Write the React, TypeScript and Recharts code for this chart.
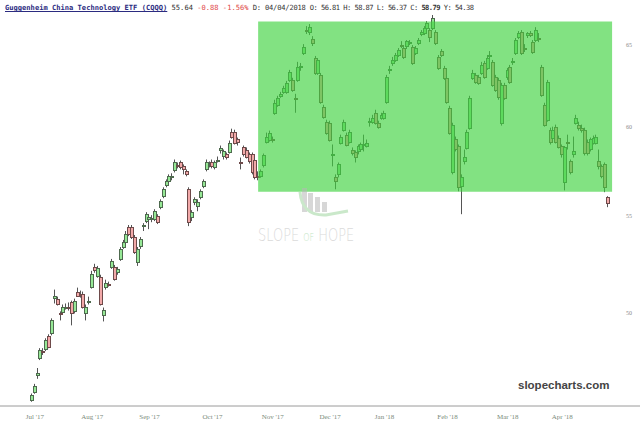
import React from 'react';
import { ComposedChart, Bar, XAxis, YAxis, ReferenceArea } from 'recharts';

// [open, high, low, close] per trading day
const julCandles = [
  [45.92, 46.2, 45.83, 46.15], [46.28, 46.64, 46.19, 46.55], [47.05, 47.37, 46.87, 47.14],
  [47.83, 48.3, 47.74, 48.21], [48.16, 48.3, 47.98, 48.12], [48.25, 48.77, 48.16, 48.68],
  [48.87, 48.96, 48.3, 48.35], [49.01, 49.73, 48.91, 49.63], [50.75, 51.15, 50.46, 50.85],
  [50.7, 50.8, 50.36, 50.46], [49.97, 50.07, 49.63, 49.92], [50.07, 50.41, 50.02, 50.31],
  [50.26, 50.46, 50.16, 50.31], [50.31, 50.51, 50.11, 50.26], [50.51, 50.6, 49.39, 49.97],
  [50.07, 50.7, 49.97, 50.56], [51.05, 51.25, 50.8, 50.85], [50.95, 51.1, 50.75, 50.9],
  [50.95, 51.05, 50.21, 50.31], [50.02, 50.41, 49.63, 50.31], [50.56, 50.8, 50.41, 50.6],
];
const augCandles = [
  [51.3, 52.1, 51.2, 51.95], [52.3, 52.46, 52.0, 52.15], [51.85, 52.35, 51.75, 52.25],
  [51.8, 51.9, 50.36, 50.46], [49.92, 50.26, 49.58, 50.16], [51.3, 51.65, 51.15, 51.5],
  [51.45, 51.55, 51.3, 51.4], [52.3, 52.71, 52.2, 52.61], [52.3, 52.4, 51.6, 51.7],
  [52.05, 52.3, 51.9, 52.2], [52.71, 53.33, 52.61, 53.23], [53.33, 53.7, 53.23, 53.59],
  [53.59, 54.17, 53.49, 54.01], [54.38, 54.49, 53.9, 54.01], [54.38, 54.49, 53.75, 53.85],
  [53.85, 53.96, 52.97, 53.07], [52.56, 53.33, 52.35, 53.23], [53.39, 53.85, 53.23, 53.75],
  [54.43, 54.59, 54.17, 54.49], [54.7, 55.18, 54.59, 55.07],
];
const sepCandles = [
  [54.8, 55.02, 54.27, 54.91], [54.8, 55.02, 54.64, 54.85], [54.8, 55.34, 54.7, 55.23],
  [54.96, 55.07, 54.54, 54.64], [55.45, 55.88, 55.34, 55.77], [56.05, 56.54, 55.94, 56.43],
  [56.65, 56.98, 56.54, 56.87], [56.87, 57.26, 56.76, 57.15], [57.12, 57.32, 56.93, 57.15],
  [57.48, 58.1, 57.37, 57.93], [57.76, 57.93, 57.6, 57.71], [57.93, 58.04, 57.54, 57.65],
  [57.71, 57.82, 57.26, 57.54], [57.43, 57.54, 57.15, 57.26], [56.43, 56.54, 54.43, 54.64],
  [54.91, 55.29, 54.7, 55.18], [55.72, 55.99, 55.56, 55.88], [55.5, 55.88, 55.23, 55.72],
  [55.99, 56.43, 55.88, 56.32], [56.6, 56.98, 56.49, 56.87], [57.54, 58.1, 57.43, 57.93],
  [57.82, 57.99, 57.65, 57.87],
];
const octCandles = [
  [57.93, 58.1, 57.6, 57.71], [57.65, 58.04, 57.54, 57.93], [58.07, 58.27, 57.93, 58.1],
  [58.62, 58.9, 58.44, 58.73], [58.27, 58.67, 58.1, 58.56], [58.39, 58.5, 58.1, 58.21],
  [58.56, 59.19, 58.44, 59.07], [59.71, 59.88, 59.3, 59.42], [59.71, 59.82, 58.96, 59.07],
  [59.25, 59.36, 58.9, 59.07], [57.93, 58.21, 57.54, 57.87], [58.79, 58.9, 58.27, 58.39],
  [58.67, 58.79, 58.16, 58.27], [58.39, 58.5, 57.87, 57.99], [58.39, 58.5, 57.26, 57.37],
  [58.1, 58.21, 56.98, 57.15], [57.15, 57.43, 56.93, 57.07], [57.15, 57.54, 57.07, 57.43],
  [57.76, 58.44, 57.65, 58.33], [59.13, 59.65, 59.02, 59.42], [59.25, 59.77, 59.13, 59.65],
];
const novCandles = [
  [59.25, 59.42, 59.07, 59.22], [60.82, 61.6, 60.7, 61.42], [61.3, 61.84, 61.18, 61.72],
  [61.84, 62.08, 61.72, 61.96], [62.08, 62.45, 61.96, 62.33], [62.08, 62.75, 61.96, 62.63],
  [62.81, 63.43, 62.69, 63.3], [62.81, 62.94, 62.08, 62.2], [61.72, 61.96, 60.82, 61.66],
  [62.81, 63.93, 62.69, 63.61], [63.61, 63.86, 63.37, 63.68], [64.49, 65.05, 64.36, 64.87],
  [65.95, 66.21, 65.7, 65.89], [65.82, 66.34, 65.63, 66.14], [65.37, 65.56, 64.93, 65.12],
  [64.17, 64.3, 63.12, 63.24], [63.24, 64.17, 63.12, 64.05], [63.12, 63.24, 61.36, 61.48],
  [61.18, 61.3, 60.47, 60.58], [60.29, 60.41, 59.53, 59.65],
];
const decCandles = [
  [60.23, 60.35, 59.13, 59.25], [58.39, 58.96, 57.71, 58.44], [57.09, 57.26, 56.43, 56.87],
  [57.26, 57.93, 57.09, 57.82], [59.07, 59.53, 58.96, 59.42], [59.82, 60.41, 59.71, 60.29],
  [59.53, 59.65, 58.85, 58.96], [59.13, 59.82, 59.02, 59.71], [58.67, 58.79, 58.33, 58.5],
  [58.5, 58.62, 57.93, 58.21], [58.56, 58.96, 58.39, 58.85], [58.67, 59.07, 58.56, 58.96],
  [58.96, 59.53, 58.56, 58.99], [58.9, 59.25, 58.79, 59.07], [60.29, 60.52, 60.0, 60.35],
  [60.29, 60.7, 60.17, 60.52], [60.82, 61.0, 60.12, 60.23], [60.23, 60.35, 59.88, 60.0],
  [60.52, 60.82, 60.41, 60.7],
];
const janCandles = [
  [60.52, 60.94, 60.41, 60.82], [61.48, 63.12, 61.36, 63.0], [63.43, 63.68, 63.18, 63.49],
  [63.86, 64.24, 63.68, 64.05], [64.05, 64.49, 63.93, 64.36], [64.36, 64.8, 64.24, 64.68],
  [65.02, 65.24, 64.8, 64.99], [64.8, 64.93, 64.11, 64.24], [64.93, 65.31, 64.74, 65.24],
  [65.12, 65.31, 64.99, 65.18], [64.87, 64.99, 63.74, 63.86], [64.49, 64.93, 64.36, 64.8],
  [65.12, 65.44, 64.99, 65.31], [65.7, 65.95, 65.56, 65.82], [65.76, 66.21, 65.63, 66.08],
  [66.08, 66.53, 65.95, 66.4], [65.95, 66.08, 65.18, 65.5], [66.08, 66.93, 65.95, 66.73],
  [65.82, 65.95, 64.99, 65.12], [64.24, 64.36, 63.43, 63.55], [64.61, 64.74, 64.24, 64.36],
  [63.55, 63.68, 62.81, 62.94],
];
const febCandles = [
  [62.94, 63.06, 61.36, 61.48], [61.12, 61.24, 59.53, 59.65], [57.43, 60.23, 57.26, 60.12],
  [59.25, 59.42, 58.56, 58.67], [58.85, 58.96, 56.32, 56.54], [56.6, 57.26, 55.07, 57.09],
  [58.04, 58.67, 57.82, 58.27], [58.79, 59.82, 58.67, 59.71], [59.94, 61.84, 59.82, 61.72],
  [62.94, 63.43, 62.81, 63.24], [63.12, 63.24, 62.57, 62.69], [63.0, 63.12, 62.51, 62.63],
  [63.24, 63.93, 63.12, 63.74], [63.86, 63.99, 62.88, 63.0], [63.55, 64.36, 63.43, 64.17],
  [64.3, 64.61, 64.11, 64.36], [63.93, 64.05, 62.39, 62.51], [63.0, 63.12, 62.08, 62.2],
  [62.81, 62.94, 61.6, 61.78], [60.23, 62.63, 60.06, 62.51], [62.51, 62.63, 61.6, 61.72],
];
const marCandles = [
  [63.0, 63.55, 62.81, 63.43], [63.61, 63.74, 62.57, 62.69], [63.93, 64.17, 63.74, 63.99],
  [64.49, 65.44, 64.36, 65.31], [65.5, 65.89, 65.37, 65.76], [65.82, 65.95, 64.36, 64.49],
  [64.8, 65.05, 64.55, 64.74], [65.63, 65.82, 65.44, 65.76], [65.76, 65.89, 65.5, 65.63],
  [65.18, 65.31, 64.43, 64.55], [65.31, 66.14, 65.18, 65.95], [65.44, 65.76, 65.18, 65.37],
  [63.61, 63.74, 61.78, 61.9], [61.3, 61.42, 60.0, 60.12], [60.41, 62.81, 60.29, 62.69],
  [59.82, 59.94, 58.96, 59.13], [59.36, 60.0, 59.25, 59.82], [60.0, 60.12, 59.02, 59.13],
  [59.36, 59.48, 58.73, 58.85],
];
const aprCandles = [
  [58.85, 58.96, 58.21, 58.39], [56.81, 58.87, 56.37, 58.79], [59.13, 59.53, 58.67, 59.07],
  [57.99, 58.1, 57.26, 57.37], [58.39, 59.42, 58.21, 58.56], [60.23, 60.7, 60.12, 60.52],
  [60.12, 60.29, 59.77, 59.94], [59.94, 60.12, 59.65, 59.82], [59.82, 59.94, 58.33, 58.5],
  [59.13, 59.25, 58.33, 58.5], [58.67, 59.36, 58.56, 59.25], [59.07, 59.48, 58.96, 59.36],
  [59.07, 59.53, 58.96, 59.42], [57.99, 58.67, 57.54, 57.71], [57.71, 57.82, 57.04, 57.15],
  [57.82, 57.93, 56.27, 56.54], [55.99, 56.05, 55.45, 55.64],
];

const monthTicks = [1, 21, 41, 63, 84, 104, 123, 145, 166, 185];
const monthLabels = ["Jul '17", "Aug '17", "Sep '17", "Oct '17", "Nov '17", "Dec '17", "Jan '18", "Feb '18", "Mar '18", "Apr '18"];
const priceTicks = [50, 55, 60, 65];

// highlighted box drawn on the chart (trading-day index / price)
const boxFrom = 78.9;
const boxTo = 202.4;
const boxLow = 56.3;
const boxHigh = 66.5;

const candles = [
  ...julCandles, ...augCandles, ...sepCandles, ...octCandles, ...novCandles,
  ...decCandles, ...janCandles, ...febCandles, ...marCandles, ...aprCandles,
].map(([o, h, l, c], i) => ({ i, o, h, l, c }));

const Candle = (props: any) => {
  const { x, y, width, height, payload } = props;
  if (x == null || !payload) return null;
  const { o, h, l, c } = payload;
  const top = Math.min(y, y + height);
  const bottom = Math.max(y, y + height);
  const span = Math.log(h) - Math.log(l);
  const py = (v: number) => (span > 0 ? top + ((bottom - top) * (Math.log(h) - Math.log(v))) / span : top);
  const left = Math.round(x + width / 2) - 2;
  const bTop = py(Math.max(o, c));
  const bBot = py(Math.min(o, c));
  const up = c >= o;
  return (
    <g>
      <line x1={left + 1.5} x2={left + 1.5} y1={top} y2={bottom} stroke="#555" strokeWidth={1} />
      <rect
        x={left + 0.5}
        y={Math.round(bTop) + 0.5}
        width={3}
        height={Math.max(Math.round(bBot - bTop), 1)}
        fill={up ? '#96e896' : '#f2a9a9'}
        stroke={up ? '#4e6a4e' : '#6e4a4a'}
        strokeWidth={1}
      />
    </g>
  );
};

export default function App() {
  return (
    <div style={{ position: 'absolute', left: 0, top: 0, width: 640, height: 425, background: '#fff', fontFamily: '"Liberation Serif", serif' }}>
      <ComposedChart width={640} height={425} data={candles} margin={{ top: 10, right: 0, bottom: 0, left: 0 }}>
        <XAxis
          dataKey="i"
          type="number"
          domain={[-11.17, 212.14]}
          allowDataOverflow
          ticks={monthTicks}
          interval={0}
          tickFormatter={(v) => monthLabels[monthTicks.indexOf(v)] ?? ''}
          tick={{ fontSize: 7, fill: '#7a8a7a' }}
          axisLine={{ stroke: '#9a9a9a' }}
          tickLine={false}
          height={19}
        />
        <YAxis
          type="number"
          scale="log"
          domain={[45.64, 67.26]}
          allowDataOverflow
          ticks={priceTicks}
          orientation="right"
          mirror
          width={30}
          axisLine={false}
          tickLine={false}
          tickSize={6}
          tick={{ fontSize: 6, fill: '#8a8a8a' }}
        />
        <Bar dataKey={(d: any) => [d.l, d.h]} barSize={4} shape={Candle} isAnimationActive={false} />
        <ReferenceArea
          x1={boxFrom}
          x2={boxTo}
          y1={boxLow}
          y2={boxHigh}
          fill="#3fd23f"
          fillOpacity={0.65}
          stroke="none"
          ifOverflow="visible"
          zIndex={1000}
        />
      </ComposedChart>

      <div style={{ position: 'absolute', left: 5, top: 3, fontFamily: '"DejaVu Sans Mono", monospace', fontSize: 7.1, whiteSpace: 'nowrap', color: '#333' }}>
        <span style={{ color: '#2b2b80', fontWeight: 'bold', textDecoration: 'underline' }}>Guggenheim China Technology ETF (CQQQ)</span>{' '}
        <span>55.64</span> <span style={{ color: '#e04848' }}>-0.88</span> <span style={{ color: '#e04848' }}>-1.56%</span>{' '}
        <span style={{ letterSpacing: -0.2 }}>D: 04/04/2018 </span>
        <span style={{ letterSpacing: -0.55 }}>O: 56.81 H: 58.87 L: 56.37 C: <b>58.79</b> Y: 54.38</span>
      </div>

      <div style={{ position: 'absolute', left: 256, top: 186, width: 110, height: 60, pointerEvents: 'none', opacity: 0.55 }}>
        <svg width={110} height={60}>
          <rect x={46} y={2} width={5} height={24} fill="#b8b8b8" />
          <rect x={52} y={7} width={5} height={19} fill="#b8b8b8" />
          <rect x={59} y={11} width={5} height={15} fill="#b8b8b8" />
          <rect x={66} y={16} width={5} height={10} fill="#b8b8b8" />
          <path d="M44 6 Q46 30 70 29 L92 25" fill="none" stroke="#9fd79f" strokeWidth={3} />
        </svg>
        <div style={{ position: 'absolute', left: 2, top: 38, fontFamily: '"DejaVu Sans", sans-serif', fontWeight: 200, fontSize: 18, color: '#bdbdbd', whiteSpace: 'nowrap', transform: 'scaleX(0.72)', transformOrigin: 'left' }}>
          SLOPE <span style={{ fontSize: 11, color: '#8fcf8f' }}>OF</span> HOPE
        </div>
      </div>

      <div style={{ position: 'absolute', left: 518, top: 379, fontFamily: '"Liberation Sans", Arial, sans-serif', fontWeight: 'bold', fontSize: 11.5, color: '#444' }}>
        slopecharts.com
      </div>
    </div>
  );
}
